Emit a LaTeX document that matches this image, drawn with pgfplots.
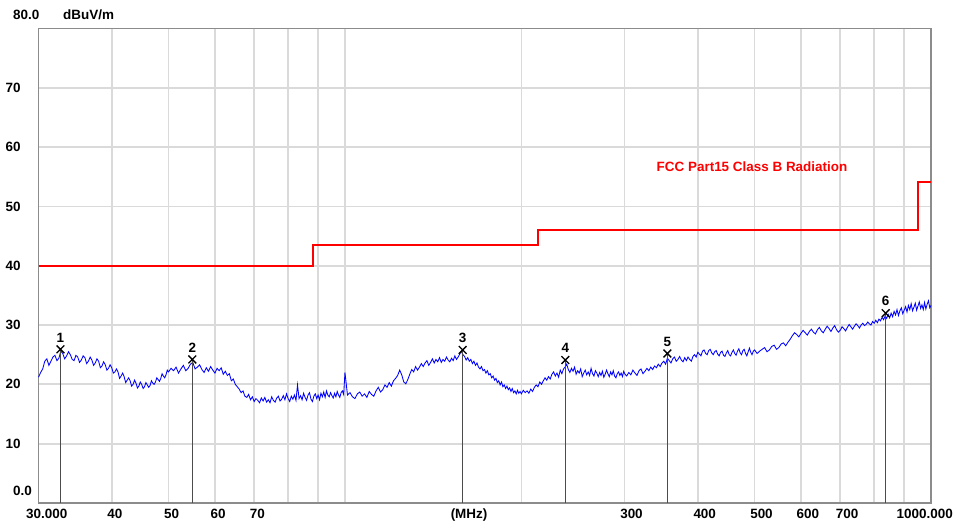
\documentclass[border=0pt]{standalone}
\usepackage{fontspec}
\setmainfont{Liberation Sans}
\usepackage{pgfplots}
\usepackage{pgfplotstable}
\pgfplotsset{compat=1.18}
\newcommand\lbl{\fontsize{13.5}{16}\selectfont\bfseries}
\definecolor{gridc}{HTML}{DADADA}
\definecolor{framec}{HTML}{8C8C8C}

\pgfplotstableread{
f y
30.00 21.2
30.25 22.0
30.50 22.6
30.75 23.9
31.00 24.3
31.25 23.2
31.50 23.9
31.75 24.6
32.00 24.9
32.25 24.0
32.50 24.4
32.75 25.6
33.00 25.2
33.25 24.3
33.50 24.8
33.75 25.5
34.00 25.0
34.25 24.2
34.50 24.0
34.75 24.9
35.00 24.6
35.25 23.7
35.50 24.1
35.75 24.8
36.00 24.5
36.25 23.5
36.50 23.9
36.75 24.6
37.00 24.1
37.25 23.2
37.50 23.6
37.75 24.3
38.00 23.9
38.25 22.8
38.50 23.1
38.75 23.8
39.00 23.3
39.25 22.4
39.50 22.7
39.75 23.3
40.00 22.8
40.25 21.9
40.50 22.1
40.75 22.6
41.00 22.1
41.25 21.0
41.50 21.4
41.75 21.9
42.00 21.3
42.25 20.3
42.50 20.7
42.75 21.1
43.00 20.6
43.25 19.7
43.50 20.0
43.75 20.7
44.00 20.2
44.25 19.4
44.50 19.7
44.75 20.4
45.00 20.0
45.25 19.3
45.50 19.6
45.75 20.3
46.00 19.9
46.25 19.5
46.50 19.8
46.75 20.6
47.00 20.2
47.25 20.0
47.50 20.4
47.75 21.1
48.00 20.8
48.25 20.5
48.50 21.0
48.75 21.8
49.00 21.4
49.25 21.1
49.50 21.6
49.75 22.4
50.00 22.1
50.5 22.7
51.0 22.3
51.5 22.9
52.0 21.9
52.5 22.6
53.0 23.2
53.5 22.3
54.0 22.7
54.5 23.4
55.0 23.7
55.5 22.6
56.0 22.9
56.5 23.3
57.0 22.5
57.5 22.0
58.0 22.8
58.5 22.2
59.0 23.0
59.5 22.4
60.0 21.9
60.5 22.7
61.0 22.3
61.5 22.8
62.0 21.7
62.5 22.2
63.0 21.5
63.5 21.8
64.0 20.6
64.5 20.9
65.0 20.0
65.5 19.6
66.0 19.2
66.5 18.6
67.0 18.9
67.5 18.0
68.0 17.8
68.5 18.3
69.0 17.4
69.5 17.9
70.0 17.1
70.5 17.6
71.0 17.3
71.5 16.9
72.0 17.7
72.5 17.2
73.0 17.8
73.5 17.0
74.0 17.4
74.5 16.9
75.0 17.9
75.5 17.3
76.0 17.0
76.5 17.7
77.0 18.0
77.5 17.2
78.0 17.5
78.5 18.1
79.0 17.4
79.5 18.4
80.0 17.6
80.5 17.1
81.0 18.0
81.5 17.5
82.0 18.2
82.5 17.3
83.0 19.9
83.5 17.6
84.0 18.1
84.5 17.4
85.0 18.5
85.5 17.8
86.0 17.3
86.5 18.2
87.0 18.6
87.5 17.5
88.0 17.1
88.5 18.0
89.0 18.4
89.5 17.6
90.0 18.2
90.5 17.4
91.0 18.5
91.5 17.9
92.0 18.7
92.5 17.8
93.0 18.9
93.5 18.2
94.0 17.9
94.5 18.6
95.0 18.1
95.5 17.7
96.0 18.5
96.5 17.9
97.0 18.8
97.5 18.2
98.0 17.8
98.5 18.6
99.0 18.9
99.5 18.3
100.0 22.0
101 18.2
102 18.6
103 17.9
104 17.6
105 18.4
106 18.7
107 18.0
108 18.4
109 17.8
110 18.8
111 18.3
112 18.0
113 18.9
114 19.5
115 18.7
116 19.1
117 19.9
118 19.5
119 20.3
120 19.7
121 20.6
122 21.0
123 21.5
124 22.4
125 21.6
126 20.4
127 20.1
128 20.8
129 21.7
130 22.5
131 22.1
132 23.0
133 22.4
134 22.9
135 23.5
136 23.0
137 23.6
138 24.0
139 23.2
140 23.7
141 24.3
142 23.6
143 24.2
144 23.8
145 24.5
146 23.7
147 24.2
148 23.9
149 24.6
150 24.1
151 23.8
152 24.4
153 24.0
154 24.8
155 24.2
156 24.6
157 25.1
158 25.6
159 25.0
160 24.7
161 24.1
162 24.5
163 23.9
164 24.2
165 23.5
166 23.9
167 23.2
168 23.6
169 22.9
170 22.6
171 23.0
172 22.3
173 22.5
174 21.9
175 22.3
176 21.6
177 21.8
178 21.1
179 21.4
180 20.7
181 21.0
182 20.3
183 20.6
184 19.9
185 20.4
186 19.6
187 19.9
188 19.3
189 19.7
190 19.1
191 19.4
192 18.8
193 19.3
194 18.6
195 18.9
196 18.4
197 19.0
198 18.5
199 18.8
200 18.4
201.5 19.0
203 18.6
204.5 18.9
206 18.5
207.5 19.2
209 18.8
210.5 19.5
212 19.9
213.5 19.6
215 20.4
216.5 20.0
218 20.6
219.5 21.1
221 20.7
222.5 21.3
224 20.9
225.5 21.7
227 22.1
228.5 21.4
230 21.9
231.5 21.2
233 22.4
234.5 21.8
236 22.6
237.5 22.9
239 23.4
240.5 22.5
242 22.0
243.5 22.7
245 22.2
246.5 22.9
248 21.7
249.5 22.3
251 21.9
252.5 22.6
254 21.3
255.5 21.9
257 22.4
258.5 21.6
260 22.1
261.5 21.5
263 22.7
264.5 21.8
266 21.4
267.5 22.3
269 21.9
270.5 21.3
272 22.0
273.5 21.5
275 22.2
276.5 21.2
278 21.7
279.5 22.4
281 21.8
282.5 21.3
284 22.1
285.5 21.6
287 22.3
288.5 21.4
290 21.1
291.5 21.8
293 22.1
294.5 21.5
296 21.9
297.5 21.3
299 22.2
300.5 21.7
302.5 21.4
305 22.0
307.5 21.6
310 22.4
312.5 21.9
315 21.5
317.5 22.3
320 22.6
322.5 21.8
325 22.2
327.5 22.7
330 22.3
332.5 22.9
335 22.5
337.5 23.1
340 22.8
342.5 23.4
345 23.0
347.5 23.6
350 23.9
352.5 23.4
355 24.4
357.5 24.0
360 23.6
362.5 24.3
365 24.6
367.5 23.9
370 24.2
372.5 24.7
375 24.1
377.5 23.8
380 24.5
382.5 24.0
385 24.6
387.5 24.2
390 23.9
392.5 24.7
395 25.0
397.5 24.6
400 25.4
402.5 25.1
405 24.8
407.5 25.6
410 25.8
412.5 25.2
415 25.0
417.5 25.7
420 25.9
422.5 25.3
425 25.0
427.5 25.5
430 25.7
432.5 25.1
435 24.8
437.5 25.4
440 25.6
442.5 24.9
445 24.7
447.5 25.3
450 25.7
452.5 25.0
455 24.8
457.5 25.4
460 25.8
462.5 25.2
465 24.9
467.5 25.6
470 26.0
472.5 25.3
475 25.0
477.5 25.7
480 25.9
482.5 25.2
485 24.8
487.5 25.5
490 26.1
492.5 25.4
495 25.0
497.5 25.6
500 25.8
505 25.2
510 25.6
515 25.9
520 26.2
525 25.5
530 25.8
535 26.4
540 26.6
545 25.9
550 26.2
555 26.8
560 27.0
565 26.5
570 27.1
575 27.6
580 28.2
585 28.7
590 28.4
595 28.0
600 28.6
605 29.1
610 28.7
615 28.3
620 28.9
625 29.3
630 28.8
635 28.5
640 29.2
645 29.6
650 29.0
655 28.7
660 29.3
665 29.8
670 29.4
675 28.9
680 29.5
685 29.9
690 29.2
695 28.8
700 29.1
705 29.7
710 29.4
715 29.0
720 29.6
725 30.1
730 29.7
735 29.3
740 29.8
745 30.2
750 29.9
755 29.5
760 30.0
765 30.3
770 29.9
775 30.1
780 30.5
785 30.2
790 30.0
795 30.6
800 30.3
805 30.8
810 30.4
815 31.0
820 30.7
825 31.3
830 30.9
835 31.5
840 31.1
845 31.8
850 31.2
855 32.0
860 31.4
865 32.3
870 31.7
875 32.6
880 31.6
885 32.4
890 32.9
895 31.9
900 32.5
905 33.1
910 32.2
915 33.3
920 32.6
925 33.6
930 32.4
935 33.0
940 33.7
945 32.5
950 33.2
955 33.9
960 32.8
965 33.4
970 32.6
975 33.8
980 32.7
985 33.5
990 34.1
995 32.9
1000 33.3
}\trace

\begin{document}
\begin{tikzpicture}
\useasboundingbox (0,0) rectangle (958bp,529bp);
\begin{axis}[
  at={(38.5bp,26bp)}, anchor=south west,
  scale only axis, width=892.5bp, height=474.6bp,
  xmode=log, xmin=30, xmax=1000, ymin=0, ymax=80,
  clip=false,
  axis line style={draw=framec, line width=1.6bp},
  grid=major,
  major grid style={draw=gridc, line width=1.7bp},
  major tick length=0pt,
  xtick={40,50,60,70,80,90,100,200,300,400,500,600,700,800,900},
  xticklabels={40,50,60,70,,,,,300,400,500,600,700,,},
  ytick={10,20,30,40,50,60,70},
  yticklabels={10,20,30,40,50,60,70},
  /pgf/number format/assume math mode=true,
  ticklabel style={font=\lbl, text=black, inner sep=0pt},
  xticklabel style={anchor=north west, xshift=-4.5bp, yshift=-6bp},
  yticklabel style={anchor=west, xshift=-33bp},
  log ticks with fixed point,
]
% FCC limit line
\addplot[const plot, draw=red, line width=2.2bp] coordinates {
  (30,40) (88.2,43.5) (213.6,46) (951,54.1) (1000,54.1)};
% measured trace
\addplot[draw=blue, line width=0.85bp] table[x=f,y=y] {\trace};
% markers
\addplot[ycomb, draw=black!70, line width=1.2bp,
  mark=x, mark size=5.5bp, mark options={draw=black, line width=1.3bp},
  nodes near coords, point meta=explicit symbolic,
  every node near coord/.append style={anchor=south, font=\lbl, text=black, inner sep=0pt, yshift=6.5bp}]
  coordinates {(32.7,25.9)[1] (54.9,24.2)[2] (158.8,25.8)[3] (237.7,24.1)[4] (355,25.2)[5] (837,32.0)[6]};
% extra labels
\node[anchor=north west, inner sep=0pt, font=\lbl, xshift=-12.5bp, yshift=-6bp] at (rel axis cs:0,0) {30.000};
\node[anchor=north east, inner sep=0pt, font=\lbl, xshift=22bp, yshift=-6bp] at (rel axis cs:1,0) {1000.000};
\node[anchor=north, inner sep=0pt, font=\lbl, yshift=-6bp] at (rel axis cs:0.4824,0) {(MHz)};
\node[anchor=west, inner sep=0pt, font=\lbl, xshift=-25.5bp, yshift=12.5bp] at (rel axis cs:0,0) {0.0};
\node[anchor=west, inner sep=0pt, font=\lbl, xshift=-25.5bp, yshift=13.7bp] at (rel axis cs:0,1) {80.0};
\node[anchor=west, inner sep=0pt, font=\lbl, xshift=24.5bp, yshift=13.7bp] at (rel axis cs:0,1) {dBuV/m};
\node[anchor=center, inner sep=0pt, font=\lbl, text=red] at (axis cs:495,56.7) {FCC Part15 Class B Radiation};
\end{axis}
\end{tikzpicture}
\end{document}
